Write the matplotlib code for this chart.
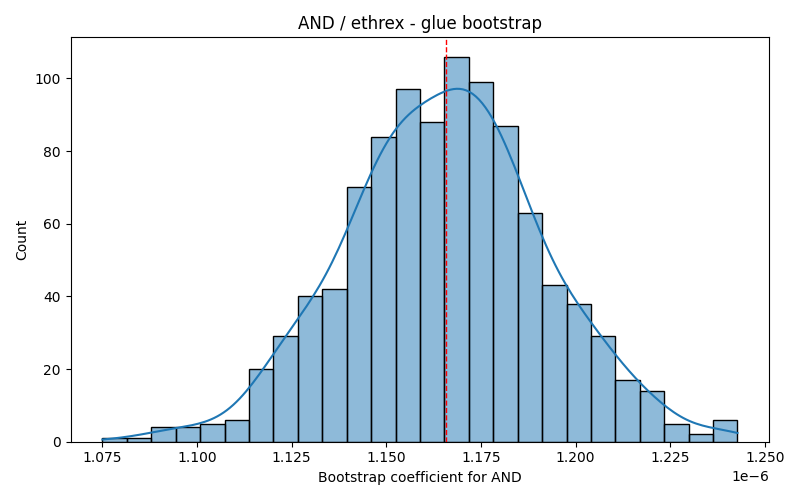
"""Bootstrap coefficient histogram for AND / ethrex glue."""

import matplotlib

matplotlib.use("Agg")

import matplotlib.pyplot as plt
import numpy as np
import seaborn as sns

BIN_START = 1.075e-6
BIN_END = 1.2428e-6
BIN_COUNTS = [1, 1, 4, 4, 5, 6, 20, 29, 40, 42, 70, 84, 97,
              88, 106, 99, 87, 63, 43, 38, 29, 17, 14, 5, 2, 6]
MEAN_COEF = 1.1659e-6


def main() -> None:
    edges = np.linspace(BIN_START, BIN_END, len(BIN_COUNTS) + 1)
    centers = (edges[:-1] + edges[1:]) / 2
    samples = np.repeat(centers, BIN_COUNTS)

    fig, ax = plt.subplots(figsize=(8, 5))
    sns.histplot(
        x=samples,
        bins=edges,
        kde=True,
        kde_kws={"cut": 3, "clip": (edges[0], edges[-1]), "bw_adjust": 1.12},
        ax=ax,
    )
    ax.axvline(MEAN_COEF, color="red", linestyle="--", linewidth=1)
    ax.set_title("AND / ethrex - glue bootstrap")
    ax.set_xlabel("Bootstrap coefficient for AND")
    ax.set_ylabel("Count")
    fig.tight_layout()
    fig.savefig("out.png", dpi=100)
    plt.close(fig)


if __name__ == "__main__":
    main()
